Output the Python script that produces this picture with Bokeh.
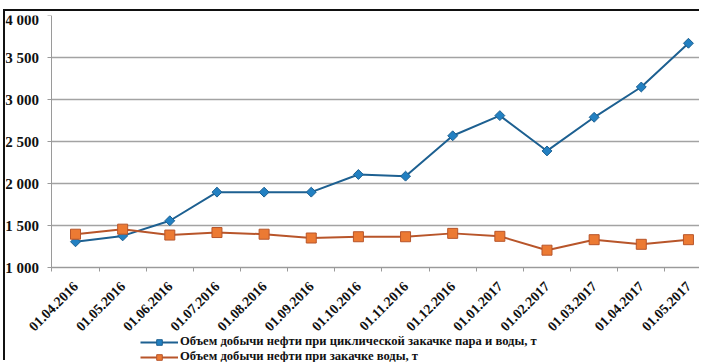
from bokeh.plotting import figure
from bokeh.models import (FixedTicker, Range1d, Legend, LegendItem, ColumnDataSource)
from bokeh.embed import file_html
from bokeh.resources import INLINE
from math import pi

# Monthly dates (category labels)
dates = ["01.04.2016", "01.05.2016", "01.06.2016", "01.07.2016", "01.08.2016",
         "01.09.2016", "01.10.2016", "01.11.2016", "01.12.2016", "01.01.2017",
         "01.02.2017", "01.03.2017", "01.04.2017", "01.05.2017"]

# Oil production with cyclic steam + water injection, t
steam_water = [1310, 1380, 1560, 1900, 1900, 1900, 2110, 2090, 2570, 2810,
               2390, 2790, 3150, 3670]

# Oil production with water injection only, t
water_only = [1400, 1460, 1390, 1420, 1400, 1355, 1370, 1370, 1410, 1375,
              1210, 1335, 1280, 1335]

y_ticks = [1000, 1500, 2000, 2500, 3000, 3500, 4000]
y_tick_labels = ["1 000", "1 500", "2 000", "2 500", "3 000", "3 500", "4 000"]

label_steam = "Объем добычи нефти при циклической закачке пара и воды, т"
label_water = "Объем добычи нефти при закачке воды, т"

FONT = "Liberation Serif"

idx = list(range(len(dates)))
src = ColumnDataSource(dict(x=idx, steam=steam_water, water=water_only))

X_START, X_END = -1.485, 13.277   # visible span of the month axis
X_LEFT_EDGE = -0.5                 # left boundary of the first month
Y_MIN, Y_MAX = 1000, 4000

# The frame fills the canvas, so the axis labels and the legend are drawn
# inside it; both axes are pinned to the corner of the plotting area.
p = figure(width=696, height=351, output_backend="svg", toolbar_location=None,
           x_range=Range1d(X_START, X_END), y_range=Range1d(-125, Y_MAX),
           min_border_left=0, min_border_right=0, min_border_top=4,
           min_border_bottom=0)
p.styles = {"margin-top": "9px", "margin-left": "3px",
            "border-top": "2px solid #111111", "border-left": "2px solid #111111"}

p.outline_line_color = None
p.background_fill_color = "white"
p.border_fill_color = "white"

# y axis
p.yaxis.fixed_location = X_LEFT_EDGE
p.yaxis.ticker = FixedTicker(ticks=y_ticks)
p.yaxis.bounds = (Y_MIN, Y_MAX)
p.yaxis.major_label_overrides = {t: s for t, s in zip(y_ticks, y_tick_labels)}
p.yaxis.major_label_text_font = FONT
p.yaxis.major_label_text_font_style = "bold"
p.yaxis.major_label_text_font_size = "15px"
p.yaxis.major_label_text_color = "#111111"
p.yaxis.major_label_standoff = 9
p.yaxis.major_tick_out = 4
p.yaxis.major_tick_in = 0
p.yaxis.minor_tick_line_color = None
p.yaxis.axis_line_color = "#9a9a9a"
p.yaxis.major_tick_line_color = "#9a9a9a"

# x axis: labels at month centres, tick marks on month boundaries
p.xaxis.fixed_location = Y_MIN
p.xaxis.bounds = (X_LEFT_EDGE, X_END)
p.xaxis.ticker = FixedTicker(ticks=idx, minor_ticks=[i - 0.5 for i in idx] + [len(idx) - 0.5])
p.xaxis.major_label_overrides = {i: d for i, d in zip(idx, dates)}
p.xaxis.major_label_orientation = pi / 4
p.xaxis.major_label_text_font = FONT
p.xaxis.major_label_text_font_style = "bold"
p.xaxis.major_label_text_font_size = "14px"
p.xaxis.major_label_text_color = "#111111"
p.xaxis.major_label_standoff = 12
p.xaxis.major_tick_line_color = None
p.xaxis.major_tick_out = 4
p.xaxis.minor_tick_out = 4
p.xaxis.minor_tick_in = 0
p.xaxis.minor_tick_line_color = "#9a9a9a"
p.xaxis.axis_line_color = "#9a9a9a"

p.xgrid.grid_line_color = None
p.ygrid.ticker = FixedTicker(ticks=y_ticks)
p.ygrid.cross_bounds = (X_LEFT_EDGE, X_END)
p.ygrid.grid_line_color = "#a3a3a3"
p.ygrid.grid_line_width = 1.5

# series
l1 = p.line("x", "steam", source=src, line_color="#1d6091", line_width=2)
m1 = p.scatter("x", "steam", source=src, marker="square", angle=pi / 4, size=7,
               fill_color="#2280c2", line_color="#1d6091", line_width=1)
l2 = p.line("x", "water", source=src, line_color="#b8552a", line_width=2)
m2 = p.scatter("x", "water", source=src, marker="square", size=10,
               fill_color="#ec7a33", line_color="#b8552a", line_width=1)

# legend sits under the rotated date labels
legend = Legend(items=[LegendItem(label=label_steam, renderers=[l1, m1]),
                       LegendItem(label=label_water, renderers=[l2, m2])],
                location=(135, -2), orientation="vertical",
                glyph_width=38, glyph_height=14, label_height=14,
                label_standoff=2, spacing=0, padding=0, margin=0,
                label_text_font=FONT, label_text_font_style="bold",
                label_text_font_size="12.6px", label_text_color="#111111",
                border_line_color=None, background_fill_alpha=0)
p.add_layout(legend, "center")

open("out.html", "w").write(file_html(p, INLINE))
